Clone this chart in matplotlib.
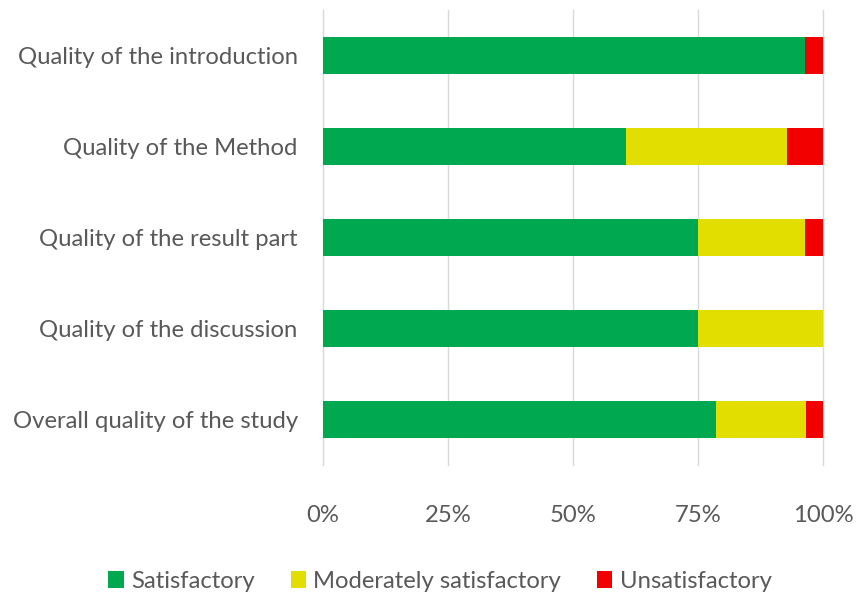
import matplotlib
matplotlib.use('Agg')
from matplotlib import pyplot as plt
from matplotlib.ticker import PercentFormatter

# survey answers, share of respondents (%)
categories = ['Quality of the introduction', 'Quality of the Method',
              'Quality of the result part', 'Quality of the discussion',
              'Overall quality of the study']
satisfactory = [96.4, 60.7, 75.0, 75.0, 78.6]
moderate = [0.0, 32.1, 21.4, 25.0, 17.9]
unsatisfactory = [3.6, 7.2, 3.6, 0.0, 3.5]
ticks = [0, 25, 50, 75, 100]

plt.rcParams['font.family'] = ['Lato', 'DejaVu Sans']
grey = '#595959'
fs = 17.2

fig = plt.figure(figsize=(8.56, 6.07), dpi=100)
ax = fig.add_axes([0.377, 0.234, 0.5845, 0.7495])

y = list(range(len(categories)))
left2 = [a for a in satisfactory]
left3 = [a + b for a, b in zip(satisfactory, moderate)]
ax.barh(y, satisfactory, height=0.4, color='#00A94F', label='Satisfactory', zorder=3)
ax.barh(y, moderate, left=left2, height=0.4, color='#E2DE00',
        label='Moderately satisfactory', zorder=3)
ax.barh(y, unsatisfactory, left=left3, height=0.4, color='#F20000',
        label='Unsatisfactory', zorder=3)

ax.set_ylim(len(categories) - 0.5, -0.5)
ax.set_xlim(0, 100)
ax.set_yticks(y)
ax.set_yticklabels(categories, fontsize=fs, color=grey)
ax.set_xticks(ticks)
ax.xaxis.set_major_formatter(PercentFormatter(decimals=0))
ax.tick_params(axis='x', labelsize=fs, labelcolor=grey, length=0, pad=29)
ax.tick_params(axis='y', length=0, pad=18)
ax.grid(axis='x', color='#d9d9d9', linewidth=1, zorder=0)
for ln in ax.get_xgridlines():
    ln.set_clip_on(False)
for s in ax.spines.values():
    s.set_visible(False)

fig.legend(loc='center', bbox_to_anchor=(0.514, 0.042), ncol=3, frameon=False,
           fontsize=fs, labelcolor=grey, handlelength=0.65, handleheight=0.75,
           handletextpad=0.3, columnspacing=1.5)

plt.savefig('out.png', dpi=100)
